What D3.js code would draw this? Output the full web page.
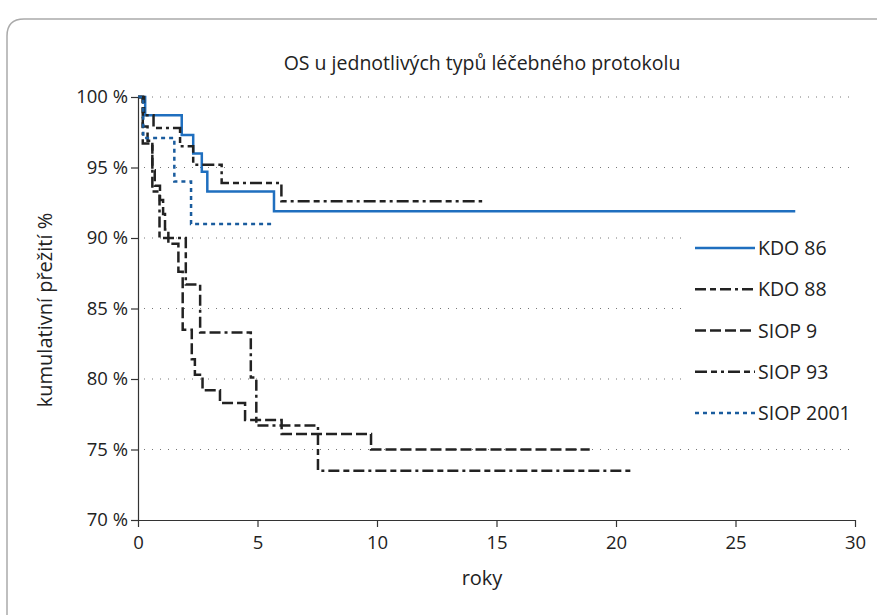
<!DOCTYPE html>
<html>
<head>
<meta charset="utf-8">
<script src="https://cdn.jsdelivr.net/npm/d3@7"></script>
<style>
  body { margin: 0; background: #fff; }
  text { font-family: "Open Sans", "Noto Sans", sans-serif; fill: #222; }
</style>
</head>
<body>
<div id="container"></div>
<script>
/* CONSTANTS AND GLOBALS */
const width = 877,
  height = 615,
  margin = { top: 97, bottom: 95, left: 138, right: 22 };

// data (years, cumulative survival %)
const seriesNames = ["KDO 86", "KDO 88", "SIOP 9", "SIOP 93", "SIOP 2001"];

const kdo86Years = [0, 0.3, 1.83, 2.31, 2.67, 2.9, 5.69, 27.5];
const kdo86Surv = [100, 98.7, 97.3, 96.0, 94.7, 93.3, 91.9, 91.9];

const kdo88Years = [0, 0.2, 0.6, 0.9, 2.0, 2.6, 4.72, 4.95, 7.53, 20.6];
const kdo88Surv = [100, 96.7, 93.3, 90.0, 86.7, 83.3, 80.1, 76.7, 73.5, 73.5];

const siop9Years = [0, 0.2, 0.4, 0.6, 0.7, 0.92, 1.05, 1.13, 1.27, 1.69, 1.87, 2.25, 2.38, 2.7, 3.43, 4.48, 6.01, 9.75, 18.9];
const siop9Surv = [100, 97.9, 96.9, 94.8, 93.7, 92.7, 91.7, 90.6, 89.6, 87.6, 83.5, 81.4, 80.3, 79.2, 78.3, 77.1, 76.1, 75.0, 75.0];

const siop93Years = [0, 0.25, 0.65, 1.76, 2.31, 3.5, 6.0, 14.4];
const siop93Surv = [100, 98.7, 97.8, 96.5, 95.2, 93.9, 92.6, 92.6];

const siop2001Years = [0, 0.22, 1.52, 2.22, 5.66];
const siop2001Surv = [100, 97.1, 94.0, 91.0, 91.0];

const xTicks = [0, 5, 10, 15, 20, 25, 30];
const yTicks = [70, 75, 80, 85, 90, 95, 100];

// line styles per series
const styles = [
  { color: "#1f6fbf", dash: null },
  { color: "#222", dash: "11,4,6,4,11,4,3,4" },
  { color: "#222", dash: "11,4" },
  { color: "#222", dash: "12,4,6,4,3,4" },
  { color: "#1a5c9e", dash: "4,4" }
];

const allSeries = [
  [kdo86Years, kdo86Surv],
  [kdo88Years, kdo88Surv],
  [siop9Years, siop9Surv],
  [siop93Years, siop93Surv],
  [siop2001Years, siop2001Surv]
].map((s, i) => ({
  name: seriesNames[i],
  style: styles[i],
  values: s[0].map((t, j) => ({ t: t, s: s[1][j] }))
}));

const svg = d3.select("#container")
  .append("svg")
  .attr("width", width)
  .attr("height", height);

// rounded frame
svg.append("path")
  .attr("d", "M7,615 L7,36 Q7,19 24,19 L877,19")
  .attr("fill", "none")
  .attr("stroke", "#aaa")
  .attr("stroke-width", 1.5);

/* SCALES */
const xScale = d3.scaleLinear()
  .domain([0, 30])
  .range([margin.left, width - margin.right]);

const yScale = d3.scaleLinear()
  .domain([70, 100])
  .range([height - margin.bottom, margin.top]);

// dotted gridlines
svg.append("g")
  .selectAll("line")
  .data(yTicks.filter(d => d > 70))
  .join("line")
  .attr("x1", margin.left + 6)
  .attr("x2", width - margin.right)
  .attr("y1", d => yScale(d))
  .attr("y2", d => yScale(d))
  .attr("stroke", "#777")
  .attr("stroke-width", 1)
  .attr("stroke-dasharray", "1,7");

// title
svg.append("text")
  .attr("x", 482)
  .attr("y", 70)
  .attr("text-anchor", "middle")
  .attr("font-size", 19.5)
  .text("OS u jednotlivých typů léčebného protokolu");

/* LINES */
const line = d3.line()
  .x(d => xScale(d.t))
  .y(d => yScale(d.s))
  .curve(d3.curveStepAfter);

// legend background hides grid behind the key
svg.append("rect")
  .attr("x", 684)
  .attr("y", 226)
  .attr("width", 172)
  .attr("height", 208)
  .attr("fill", "#fff");

svg.append("g")
  .selectAll("path")
  .data(allSeries)
  .join("path")
  .attr("d", d => line(d.values))
  .attr("fill", "none")
  .attr("stroke", d => d.style.color)
  .attr("stroke-width", 2.5)
  .attr("stroke-dasharray", d => d.style.dash);

/* AXES */
const xAxis = d3.axisBottom(xScale).tickValues(xTicks).tickSize(7).tickSizeOuter(0);
const gx = svg.append("g")
  .attr("transform", `translate(0,${height - margin.bottom})`)
  .call(xAxis);
gx.selectAll("text").attr("font-size", 18.5).attr("dy", "1.05em");

const yAxis = d3.axisLeft(yScale).tickValues(yTicks).tickSize(7).tickSizeOuter(0)
  .tickFormat(d => d + " %");
const gy = svg.append("g")
  .attr("transform", `translate(${margin.left},0)`)
  .call(yAxis);
gy.selectAll("text").attr("font-size", 18.5).attr("x", -10);

svg.selectAll(".domain, .tick line").attr("stroke", "#333").attr("stroke-width", 1.2);
svg.selectAll(".tick text").attr("fill", "#222");

// axis labels
svg.append("text")
  .attr("x", 482)
  .attr("y", 585)
  .attr("text-anchor", "middle")
  .attr("font-size", 20)
  .text("roky");

svg.append("text")
  .attr("transform", "translate(52,310) rotate(-90)")
  .attr("text-anchor", "middle")
  .attr("font-size", 20)
  .text("kumulativní přežití %");

/* LEGEND */
const legendY = d3.scalePoint().domain(seriesNames).range([248, 413]);
const legend = svg.append("g")
  .selectAll("g")
  .data(allSeries)
  .join("g")
  .attr("transform", d => `translate(0,${legendY(d.name)})`);

legend.append("line")
  .attr("x1", 695)
  .attr("x2", 755)
  .attr("stroke", d => d.style.color)
  .attr("stroke-width", 2.5)
  .attr("stroke-dasharray", d => d.style.dash);

legend.append("text")
  .attr("x", 758)
  .attr("y", 7)
  .attr("font-size", 19.5)
  .text(d => d.name);
</script>
</body>
</html>
